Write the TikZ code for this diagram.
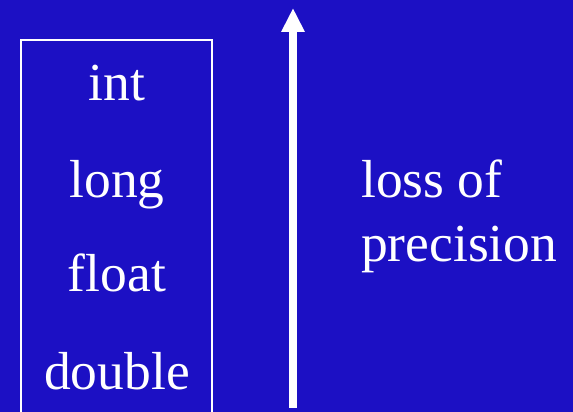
\documentclass[tikz,border=0pt]{standalone}
\usepackage{fontspec}
\setmainfont{Liberation Serif}
\usetikzlibrary{arrows.meta}
\begin{document}
\begin{tikzpicture}[x=1pt, y=1pt]
    \definecolor{slideBlue}{HTML}{1C10C4}
    \tikzset{typeLabel/.style={anchor=base, inner sep=0pt, text=white, font=\fontsize{53.5}{64}\selectfont}}

    % Draw background
    \fill[slideBlue] (0,0) rectangle (573,412);
    \useasboundingbox (0,0) rectangle (573,412);

    % Draw box of types
    \draw[white, line width=2pt] (21,-5) -- (21,372) -- (212,372) -- (212,-5);

    % Label types
    \node[typeLabel] (int) at (117,311) {int};
    \node[typeLabel] (long) at (117,214) {long};
    \node[typeLabel] (float) at (117,120) {float};
    \node[typeLabel] (double) at (117,22) {double};

    % Draw arrow
    \coordinate (arrowBase) at (293,4);
    \coordinate (arrowTip) at (293,404);
    \draw[white, line width=8pt, -{Triangle[width=22pt, length=24pt]}] (arrowBase) -- (arrowTip);

    % Label arrow
    \node[typeLabel, anchor=base west] (loss) at (361,214) {loss of};
    \node[typeLabel, anchor=base west] (precision) at (361,150) {precision};
\end{tikzpicture}
\end{document}
